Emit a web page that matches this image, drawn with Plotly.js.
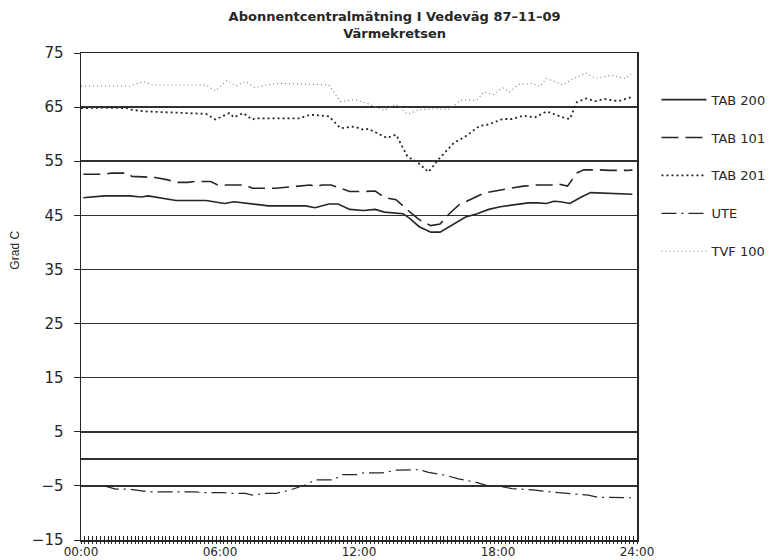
<!DOCTYPE html>
<html><head><meta charset="utf-8">
<script src="https://cdn.plot.ly/plotly-3.0.1.min.js"></script>
<style>html,body{margin:0;padding:0;background:#fff}#chart{width:783px;height:560px}</style>
</head><body><div id="chart"></div>
<script>
// Hours of day (0-24) and temperatures in Grad C
const tab200Hours  = [0.1,1.0,2.1,2.6,2.9,3.6,4.1,5.4,6.2,6.6,7.4,8.1,9.7,10.1,10.7,11.1,11.6,12.2,12.7,13.1,13.9,14.2,14.6,15.1,15.5,16.0,16.6,17.1,17.6,18.1,18.7,19.3,19.7,20.1,20.4,20.7,21.1,21.6,22.0,22.5,23.3,23.8];
const tab200Values = [48.25,48.6,48.6,48.4,48.6,48.1,47.75,47.75,47.2,47.5,47.1,46.75,46.75,46.4,47.1,47.1,46.1,45.9,46.1,45.6,45.3,44.4,42.9,41.9,41.9,43.1,44.7,45.3,46.1,46.6,47.0,47.3,47.3,47.2,47.6,47.5,47.2,48.4,49.2,49.1,48.9,48.9];

const tab101Hours  = [0.1,1.0,1.3,2.0,2.2,3.2,3.7,4.1,4.6,4.9,5.6,5.9,7.1,7.4,8.4,9.6,9.9,10.1,10.4,10.8,11.1,11.6,12.1,12.7,13.1,13.6,14.2,14.6,15.1,15.5,15.9,16.3,16.9,17.4,18.0,18.6,19.1,19.7,20.4,20.6,21.0,21.4,21.7,22.4,22.8,23.6,23.8];
const tab101Values = [52.6,52.6,52.8,52.8,52.2,52.0,51.6,51.1,51.1,51.25,51.25,50.6,50.6,50.0,50.0,50.5,50.6,50.3,50.6,50.6,50.1,49.4,49.4,49.5,48.3,47.9,45.6,44.2,43.1,43.4,45.3,46.9,48.1,49.1,49.6,50.0,50.4,50.6,50.6,50.8,50.4,52.8,53.4,53.4,53.3,53.3,53.4];

const tab201Hours  = [0.0,1.0,2.0,2.2,2.8,4.0,5.4,5.8,6.4,6.6,7.0,7.4,7.5,9.4,9.9,10.7,11.2,11.8,12.2,12.4,12.7,13.2,13.6,14.1,14.5,15.0,15.4,16.1,16.6,17.2,17.6,18.2,18.6,19.1,19.6,20.1,20.8,21.1,21.4,21.8,22.2,22.6,23.2,23.6,23.8];
const tab201Values = [64.8,64.9,64.8,64.5,64.2,64.0,63.75,62.7,63.9,63.1,63.9,62.7,62.9,62.9,63.6,63.3,61.1,61.4,60.8,61.0,60.4,59.3,59.9,55.8,54.9,53.0,55.2,58.4,59.6,61.5,61.8,62.8,62.8,63.4,63.1,64.2,63.1,62.8,65.9,66.6,66.1,66.5,66.1,66.6,66.9];

const uteHours  = [1.0,1.5,2.1,2.5,2.9,4.9,5.3,6.2,6.4,7.1,7.4,7.9,8.4,9.0,9.7,10.1,10.9,11.3,11.9,12.2,13.0,13.6,14.3,14.6,15.0,15.7,16.3,17.1,17.5,18.1,18.6,19.3,19.5,20.6,21.6,21.9,22.3,23.8];
const uteValues = [-5.0,-5.6,-5.6,-5.9,-6.1,-6.1,-6.25,-6.25,-6.4,-6.4,-6.7,-6.4,-6.4,-5.8,-4.8,-3.9,-3.9,-2.9,-2.9,-2.6,-2.6,-2.1,-2.1,-2.0,-2.5,-3.0,-3.7,-4.4,-4.9,-5.1,-5.5,-5.6,-5.75,-6.25,-6.5,-6.7,-7.1,-7.2];

const tvfHours  = [0.0,2.1,2.7,3.1,5.4,5.8,6.3,6.7,7.1,7.5,8.0,8.6,10.7,11.2,11.8,12.2,12.4,13.1,13.6,14.1,14.6,15.2,15.9,16.4,17.1,17.4,17.8,18.2,18.5,18.9,19.5,19.8,20.1,20.8,21.2,21.8,22.2,22.9,23.5,23.8];
const tvfValues = [68.9,68.9,69.75,69.1,69.1,68.0,69.9,68.9,69.75,68.6,69.1,69.4,69.1,66.0,66.4,65.8,65.6,64.4,65.5,63.7,64.5,64.7,64.6,66.3,66.3,67.8,67.3,68.6,67.8,69.2,69.4,68.8,70.3,69.1,70.1,71.3,70.3,70.9,70.3,71.3];

const seriesNames = ['TAB 200','TAB 101','TAB 201','UTE','TVF 100'];
const xTickVals = [0,6,12,18,24];
const xTickText = ['00:00','06:00','12:00','18:00','24:00'];
const yTickVals = [-15,-5,5,15,25,35,45,55,65,75];

const ink = '#262626';
const traces = [
  {x: tab200Hours, y: tab200Values, name: seriesNames[0], legendgroup: 'a', line: {color: ink, width: 1.6, dash: 'solid'}},
  {x: tab101Hours, y: tab101Values, name: seriesNames[1], legendgroup: 'b', line: {color: ink, width: 1.6, dash: '17px,7px'}},
  {x: tab201Hours, y: tab201Values, name: seriesNames[2], legendgroup: 'c', line: {color: ink, width: 1.8, dash: '2px,3px'}},
  {x: uteHours, y: uteValues, name: seriesNames[3], legendgroup: 'd', xaxis: 'x2', line: {color: ink, width: 1.2, dash: '15px,5px,2px,5px'}},
  {x: tvfHours, y: tvfValues, name: seriesNames[4], legendgroup: 'e', line: {color: '#777', width: 1.1, dash: '1px,3px'}}
].map(t => Object.assign({type: 'scatter', mode: 'lines', hoverinfo: 'skip'}, t));

const layout = {
  width: 783, height: 560,
  paper_bgcolor: '#ffffff', plot_bgcolor: '#ffffff',
  margin: {l: 81, r: 141, t: 53, b: 20},
  font: {family: 'DejaVu Sans', color: ink},
  title: {
    text: 'Abonnentcentralmätning I Vedeväg 87–11–09<br>Värmekretsen',
    font: {family: 'DejaVu Sans', size: 13, weight: 'bold', color: ink},
    x: 0.504, xanchor: 'center', xref: 'container',
    y: 0.962, yanchor: 'top', yref: 'container'
  },
  xaxis: {
    range: [0, 24], tickvals: xTickVals, ticktext: xTickText,
    showgrid: false, zeroline: false,
    showline: true, linecolor: ink, linewidth: 1.5, mirror: true,
    ticks: 'inside', ticklen: 4, tickcolor: ink, tickwidth: 1,
    minor: {dtick: 1/6, tick0: 0, ticks: 'inside', ticklen: 4, tickcolor: ink, tickwidth: 1, showgrid: false},
    tickfont: {family: 'DejaVu Sans', size: 12, color: ink}
  },
  xaxis2: {
    range: [0, 24], overlaying: 'x', anchor: 'y', side: 'bottom', matches: 'x',
    showgrid: false, zeroline: false, showline: false, showticklabels: false,
    ticks: 'outside', ticklen: 3, tickcolor: ink, tickwidth: 1, tickvals: xTickVals,
    minor: {dtick: 1/6, tick0: 0, ticks: 'outside', ticklen: 3, tickcolor: ink, tickwidth: 1, showgrid: false}
  },
  yaxis: {
    range: [-15, 75], tickvals: yTickVals,
    showgrid: true, gridcolor: '#303030', gridwidth: 1.5,
    zeroline: true, zerolinecolor: '#303030', zerolinewidth: 1.5,
    showline: true, linecolor: ink, linewidth: 1.5, mirror: true,
    ticks: 'outside', ticklen: 6, tickcolor: ink, tickwidth: 1,
    ticklabelstandoff: 7,
    tickfont: {family: 'DejaVu Sans', size: 15, color: ink}
  },
  showlegend: true,
  legend: {
    x: 1.035, xanchor: 'left', y: 0.935, yanchor: 'top',
    traceorder: 'grouped', tracegroupgap: 18,
    font: {family: 'DejaVu Sans', size: 13, color: ink},
    bgcolor: 'rgba(0,0,0,0)', borderwidth: 0, itemwidth: 45
  },
  annotations: [{
    text: 'Grad C', textangle: -90, showarrow: false,
    xref: 'paper', yref: 'paper', x: -0.118, y: 0.595,
    xanchor: 'center', yanchor: 'middle',
    font: {family: 'Liberation Sans Narrow, Liberation Sans', size: 12, color: ink}
  }]
};

Plotly.newPlot('chart', traces, layout, {displayModeBar: false, staticPlot: true});
</script>
</body></html>
